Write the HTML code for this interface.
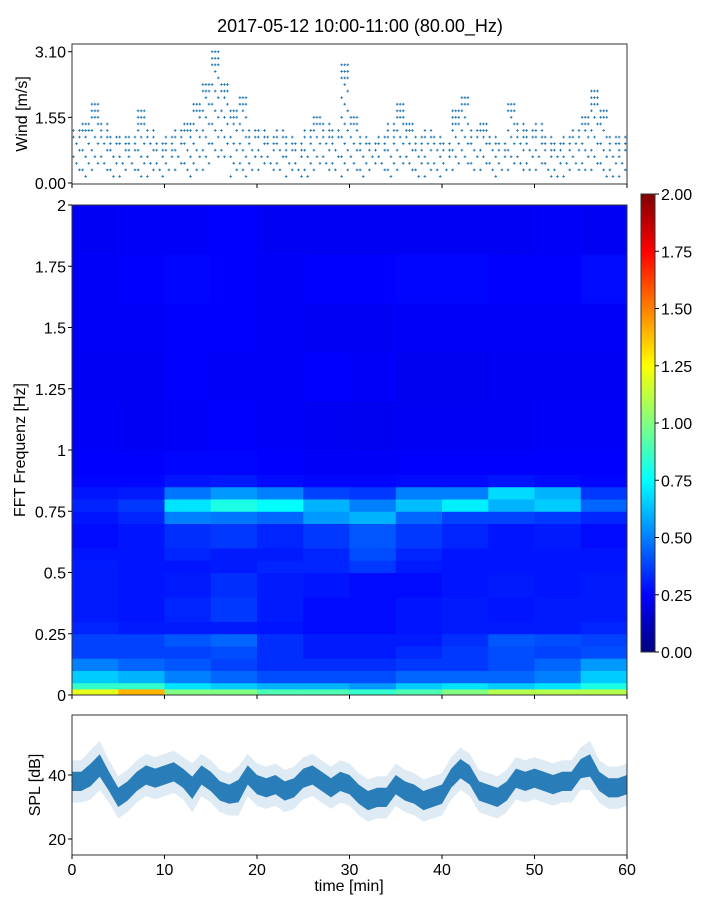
<!DOCTYPE html>
<html><head><meta charset="utf-8"><style>
body{margin:0;background:#fff;}
svg text{font-family:"Liberation Sans","DejaVu Sans",sans-serif;fill:#000;}
</style></head><body>
<svg id="fig" width="720" height="900" viewBox="0 0 720 900" xmlns="http://www.w3.org/2000/svg">
<rect width="720" height="900" fill="#fff"/>
<text x="360" y="32" font-size="18" text-anchor="middle">2017-05-12 10:00-11:00 (80.00_Hz)</text>
<g id="wind"></g>
<g id="spec"></g>
<g id="cbar"></g>
<g id="spl"></g>
</svg>
<script>
// ---- data ----
const windMinutes=[0,1,2,3,4,5,6,7,8,9,10,11,12,13,14,15,16,17,18,19,20,21,22,23,24,25,26,27,28,29,30,31,32,33,34,35,36,37,38,39,40,41,42,43,44,45,46,47,48,49,50,51,52,53,54,55,56,57,58,59];
const windHi=[1.3,1.5,1.9,1.4,1.2,1.2,1.1,1.7,1.3,1.0,1.1,1.3,1.5,2.0,2.4,3.1,2.4,1.8,2.1,1.3,1.3,1.2,1.3,1.1,1.0,1.3,1.6,1.4,1.3,2.8,1.6,1.2,1.0,1.2,1.4,1.9,1.5,1.1,1.3,1.2,1.0,1.7,2.1,1.3,1.5,1.2,1.0,2.0,1.4,1.3,1.4,1.1,1.0,1.2,1.3,1.6,2.2,1.8,1.2,1.1];
const windLo=[0.3,0.1,0.3,0.3,0.2,0.2,0.3,0.2,0.2,0.1,0.3,0.3,0.2,0.3,0.3,0.6,0.6,0.1,0.1,0.3,0.3,0.3,0.3,0.2,0.2,0.2,0.3,0.3,0.3,0.2,0.3,0.2,0.3,0.3,0.2,0.3,0.3,0.1,0.2,0.2,0.3,0.3,0.4,0.3,0.3,0.2,0.3,0.3,0.3,0.3,0.3,0.2,0.2,0.2,0.3,0.3,0.3,0.2,0.2,0.2];
const windTicks=["0.00","1.55","3.10"];
const windTickVals=[0,1.55,3.1];

const specTimeEdges=[0,5,10,15,20,25,30,35,40,45,50,55,60];
const specFreqEdges=[0,0.025,0.05,0.1,0.15,0.2,0.25,0.3,0.4,0.5,0.55,0.6,0.7,0.75,0.8,0.85,0.9,1.0,1.2,1.4,1.6,1.8,2.0];
const specValues=[
[1.2,1.4,1.0,1.0,0.9,0.9,0.85,0.9,1.0,1.1,1.1,1.1],
[0.85,0.85,0.7,0.65,0.6,0.6,0.55,0.65,0.7,0.65,0.7,0.8],
[0.65,0.6,0.5,0.45,0.4,0.4,0.4,0.45,0.45,0.45,0.5,0.65],
[0.5,0.45,0.42,0.38,0.34,0.34,0.34,0.36,0.36,0.4,0.45,0.55],
[0.38,0.38,0.38,0.4,0.34,0.3,0.3,0.33,0.36,0.4,0.38,0.4],
[0.38,0.38,0.42,0.45,0.34,0.3,0.3,0.3,0.34,0.42,0.4,0.38],
[0.32,0.3,0.3,0.3,0.29,0.27,0.27,0.29,0.3,0.3,0.3,0.32],
[0.3,0.29,0.32,0.36,0.3,0.27,0.27,0.29,0.3,0.29,0.3,0.3],
[0.3,0.29,0.3,0.34,0.3,0.29,0.27,0.27,0.29,0.3,0.29,0.3],
[0.3,0.29,0.29,0.3,0.32,0.32,0.36,0.3,0.29,0.29,0.29,0.29],
[0.29,0.29,0.32,0.3,0.3,0.32,0.4,0.32,0.29,0.29,0.29,0.29],
[0.27,0.29,0.34,0.36,0.32,0.36,0.42,0.36,0.32,0.29,0.3,0.27],
[0.29,0.32,0.5,0.48,0.45,0.55,0.6,0.45,0.38,0.38,0.36,0.32],
[0.32,0.36,0.7,0.8,0.75,0.6,0.5,0.62,0.72,0.6,0.65,0.45],
[0.29,0.3,0.48,0.55,0.5,0.38,0.36,0.5,0.5,0.68,0.6,0.36],
[0.26,0.26,0.29,0.3,0.27,0.26,0.26,0.27,0.27,0.29,0.27,0.26],
[0.25,0.25,0.26,0.26,0.25,0.24,0.24,0.25,0.25,0.25,0.25,0.25],
[0.24,0.23,0.24,0.25,0.24,0.23,0.22,0.23,0.23,0.23,0.24,0.24],
[0.23,0.23,0.25,0.24,0.24,0.25,0.24,0.22,0.22,0.23,0.23,0.23],
[0.24,0.24,0.25,0.25,0.24,0.23,0.23,0.24,0.24,0.24,0.24,0.24],
[0.24,0.25,0.26,0.25,0.24,0.25,0.25,0.26,0.26,0.25,0.25,0.27],
[0.23,0.24,0.24,0.25,0.23,0.23,0.23,0.23,0.23,0.23,0.24,0.23]
];
const specYTicks=["0","0.25","0.5","0.75","1","1.25","1.5","1.75","2"];
const specYVals=[0,0.25,0.5,0.75,1,1.25,1.5,1.75,2];
const cbarTicks=["0.00","0.25","0.50","0.75","1.00","1.25","1.50","1.75","2.00"];
const cbarVals=[0,0.25,0.5,0.75,1,1.25,1.5,1.75,2];

const splMinutes=[0,1,2,3,4,5,6,7,8,9,10,11,12,13,14,15,16,17,18,19,20,21,22,23,24,25,26,27,28,29,30,31,32,33,34,35,36,37,38,39,40,41,42,43,44,45,46,47,48,49,50,51,52,53,54,55,56,57,58,59,60];
const splMean=[38,38,40,43,38,33,35,38,40,39,40,41,39,36,40,38,35,34,35,40,37,36,37,35,36,39,40,38,36,38,37,34,32,33,33,37,35,34,32,33,34,39,42,40,35,34,33,35,39,38,39,38,37,38,38,42,43,38,36,36,37];
const splSpread=[3,3,3.5,3.5,3,3,3,3,3,3,3,3,3,3.5,3,3,3,3,3.5,3,3,3,3,3,3,3,3,3,3,3,3,3,3,3,3,3,3,3,3,3,3,3,3,3,3,3,3,3,3,3,3,3,3,3,3,3,3.5,3,3,3,3];
const splTicks=["20","40"];
const splTickVals=[20,40];
const xTicks=["0","10","20","30","40","50","60"];
const xTickVals=[0,10,20,30,40,50,60];

// ---- helpers ----
const NS="http://www.w3.org/2000/svg";
function mk(parent,tag,attrs){const e=document.createElementNS(NS,tag);for(const k in attrs)e.setAttribute(k,attrs[k]);parent.appendChild(e);return e;}
const X0=72,X1=627;
const xs=t=>X0+(t/60)*(X1-X0);
function jet(v){v=Math.max(0,Math.min(1,v));
 const r=Math.max(0,Math.min(1,1.5-Math.abs(4*v-3)));
 const g=Math.max(0,Math.min(1,1.5-Math.abs(4*v-2)));
 const b=Math.max(0,Math.min(1,1.5-Math.abs(4*v-1)));
 return `rgb(${Math.round(r*255)},${Math.round(g*255)},${Math.round(b*255)})`;}
const FS=16;

// ---- wind ----
const W=document.getElementById('wind');
const wy=v=>183-v*42.35;
const wdots=mk(W,'path',{fill:'none',stroke:'#1f77b4','stroke-width':'0.9'});


let d='';
windMinutes.forEach((m,i)=>{
 const step=0.155;
 for(let k=0;k<3;k++){
  const t=m+k*0.33+0.15;
  let j=0;
  for(let v=Math.round(windLo[i]/step)*step;v<=windHi[i]+0.01;v+=step){
   j++;
   const top=v>windHi[i]-0.35;
   if(!top && ((j+k+i)%3)!==0)continue;
   if(top && k===1 && windHi[i]<1.5)continue;
   const x=xs(t),y=wy(v);
   d+=`M${x-1.3},${y}h2.6M${x},${y-1.3}v2.6`;
  }
 }
});
wdots.setAttribute('d',d);
let fr=mk(W,'rect',{x:X0,y:44,width:X1-X0,height:140,fill:'none',stroke:'#333','stroke-width':1});

windTickVals.forEach((v,i)=>{
 mk(W,'line',{x1:X0-4,x2:X0,y1:wy(v),y2:wy(v),stroke:'#000'});
 const t=mk(W,'text',{x:X0-6,y:wy(v)+6,'font-size':FS,'text-anchor':'end'});t.textContent=windTicks[i];
 
});
xTickVals.forEach(v=>mk(W,'line',{x1:xs(v),x2:xs(v),y1:184,y2:188,stroke:'#000'}));
let wl=mk(W,'text',{x:27,y:114,'font-size':FS,'text-anchor':'middle',transform:'rotate(-90 27 114)'});wl.textContent='Wind [m/s]';


// ---- spectrogram ----
const S=document.getElementById('spec');
const SY0=695,SY1=205;
const sy=f=>SY0-(f/2)*(SY0-SY1);
specValues.forEach((row,ri)=>{
 row.forEach((v,ci)=>{
  const x=xs(specTimeEdges[ci]),x2=xs(specTimeEdges[ci+1]);
  const y=sy(specFreqEdges[ri+1]),y2=sy(specFreqEdges[ri]);
  const c=mk(S,'rect',{x:x,y:y,width:x2-x+0.5,height:y2-y+0.5,fill:jet(v/2)});
  
  
 });
});
fr=mk(S,'rect',{x:X0,y:SY1,width:X1-X0,height:SY0-SY1,fill:'none',stroke:'#333','stroke-width':1});

specYVals.forEach((v,i)=>{
 mk(S,'line',{x1:X0-4,x2:X0,y1:sy(v),y2:sy(v),stroke:'#000'});
 const t=mk(S,'text',{x:X0-6,y:sy(v)+6,'font-size':FS,'text-anchor':'end'});t.textContent=specYTicks[i];
 
});
xTickVals.forEach(v=>mk(S,'line',{x1:xs(v),x2:xs(v),y1:SY0,y2:SY0+4,stroke:'#000'}));
let sl=mk(S,'text',{x:25,y:450,'font-size':FS,'text-anchor':'middle',transform:'rotate(-90 25 450)'});sl.textContent='FFT Frequenz [Hz]';


// ---- colorbar ----
const C=document.getElementById('cbar');
const CY0=652,CY1=194,CX=641,CW=14;
const cy=v=>CY0-(v/2)*(CY0-CY1);
const defs=mk(C,'defs',{});
const lg=mk(defs,'linearGradient',{id:'jetg',x1:0,y1:1,x2:0,y2:0});
for(let i=0;i<=16;i++){mk(lg,'stop',{offset:i/16,'stop-color':jet(i/16)});}
let cr=mk(C,'rect',{x:CX,y:CY1,width:CW,height:CY0-CY1,fill:'url(#jetg)',stroke:'#333','stroke-width':1});

cbarVals.forEach((v,i)=>{
 mk(C,'line',{x1:CX+CW,x2:CX+CW+4,y1:cy(v),y2:cy(v),stroke:'#000'});
 const t=mk(C,'text',{x:CX+CW+6,y:cy(v)+6,'font-size':FS});t.textContent=cbarTicks[i];
 
});

// ---- SPL ----
const P=document.getElementById('spl');
const PY0=855,PY1=715;
const py=v=>775-(v-40)*3.2;
let up=[],dn=[],up2=[],dn2=[];
splMinutes.forEach((m,i)=>{const x=xs(m);
 up.push(`${x},${py(splMean[i]+splSpread[i]*2.2)}`);dn.unshift(`${x},${py(splMean[i]-splSpread[i]*2.2)}`);
 up2.push(`${x},${py(splMean[i]+splSpread[i])}`);dn2.unshift(`${x},${py(splMean[i]-splSpread[i])}`);});
let o=mk(P,'polygon',{points:up.concat(dn).join(' '),fill:'#1f77b4','fill-opacity':0.15});

let inn=mk(P,'polygon',{points:up2.concat(dn2).join(' '),fill:'#1f77b4','fill-opacity':0.95});

fr=mk(P,'rect',{x:X0,y:PY1,width:X1-X0,height:PY0-PY1,fill:'none',stroke:'#333','stroke-width':1});

splTickVals.forEach((v,i)=>{
 mk(P,'line',{x1:X0-4,x2:X0,y1:py(v),y2:py(v),stroke:'#000'});
 const t=mk(P,'text',{x:X0-6,y:py(v)+6,'font-size':FS,'text-anchor':'end'});t.textContent=splTicks[i];
 
});
xTickVals.forEach((v,i)=>{
 mk(P,'line',{x1:xs(v),x2:xs(v),y1:PY0,y2:PY0+4,stroke:'#000'});
 const t=mk(P,'text',{x:xs(v),y:PY0+20,'font-size':FS,'text-anchor':'middle'});t.textContent=xTicks[i];
 
});
let pl=mk(P,'text',{x:40,y:785,'font-size':FS,'text-anchor':'middle',transform:'rotate(-90 40 785)'});pl.textContent='SPL [dB]';

let xl=mk(P,'text',{x:349,y:891,'font-size':FS,'text-anchor':'middle'});xl.textContent='time [min]';

</script>
</body></html>
